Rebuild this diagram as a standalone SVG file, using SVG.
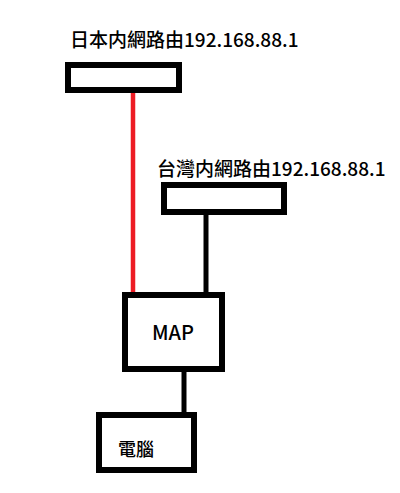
<svg xmlns="http://www.w3.org/2000/svg" width="400" height="493" viewBox="0 0 400 493">
<style>
.box{fill:#fff;stroke:#000;stroke-width:6}
.t{font-family:"Noto Sans CJK TC","Noto Sans",sans-serif;font-size:19px;font-weight:500;fill:#000}
.ln{stroke:#000;stroke-width:5;fill:none}
</style>
<rect width="400" height="493" fill="#fff"/>
<g id="connectors">
<line x1="133" y1="93" x2="133" y2="293" stroke="#ed1c24" stroke-width="4.5"/>
<line class="ln" x1="206" y1="214" x2="206" y2="293"/>
<line class="ln" x1="184" y1="371" x2="184" y2="413"/>
</g>
<g id="japan">
<text class="t" x="70" y="47">日本内網路由192.168.88.1</text>
<rect class="box" x="68" y="65" width="111" height="25"/>
</g>
<g id="taiwan">
<text class="t" x="157" y="176">台灣内網路由192.168.88.1</text>
<rect class="box" x="164" y="185" width="120" height="27"/>
</g>
<g id="map">
<rect class="box" x="125" y="295" width="97" height="74"/>
<text class="t" x="173" y="340" text-anchor="middle" style="font-size:20px">MAP</text>
</g>
<g id="pc">
<rect class="box" x="99" y="415" width="95" height="55"/>
<text class="t" x="118" y="456" style="font-size:18px">電腦</text>
</g>
</svg>
